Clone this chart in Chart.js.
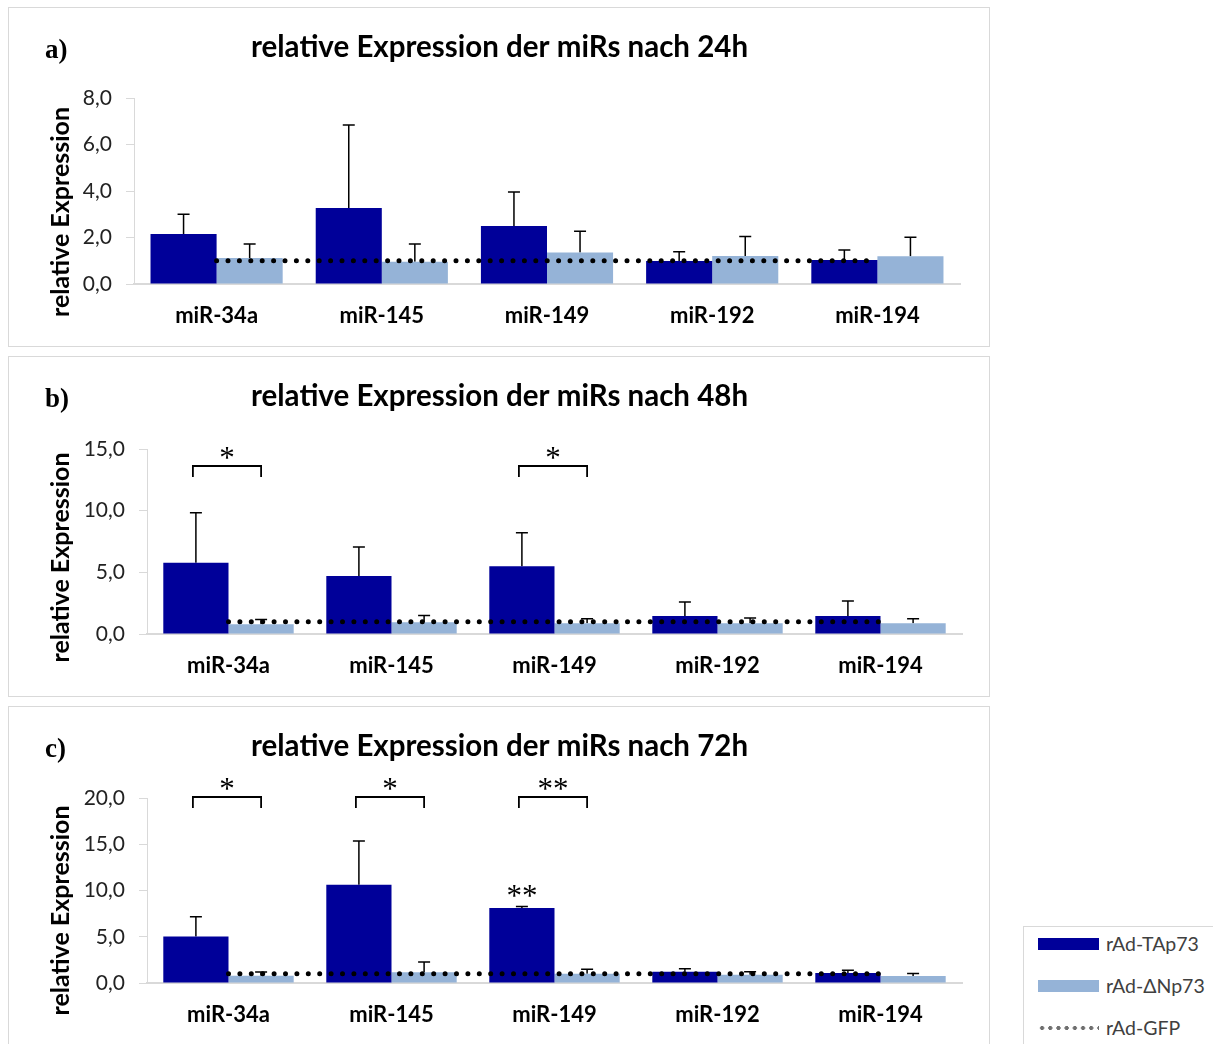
<!DOCTYPE html>
<html><head><meta charset="utf-8">
<script src="https://cdn.jsdelivr.net/npm/chart.js@4"></script>
<style>
body{margin:0;background:#fff;width:1213px;height:1044px;overflow:hidden;position:relative;font-family:Lato,sans-serif}
.box{position:absolute;left:8px;width:982px;border:1px solid #d9d9d9;box-sizing:border-box}
canvas{position:absolute;left:8px}
#legend{position:absolute;left:1023px;top:926px;width:220px;height:140px;border:1px solid #d9d9d9;box-sizing:border-box}
.sw{position:absolute;left:14px;width:61px;height:12px}
.lt{position:absolute;left:82px;font-size:19.5px;color:#404040;line-height:22px;white-space:nowrap}
</style></head>
<body>
<div class="box" style="top:7px;height:340px"></div>
<div class="box" style="top:356px;height:341px"></div>
<div class="box" style="top:706px;height:350px"></div>
<canvas id="ca" width="982" height="339" style="top:7px"></canvas>
<canvas id="cb" width="982" height="340" style="top:356px"></canvas>
<canvas id="cc" width="982" height="338" style="top:706px"></canvas>
<div id="legend">
  <div class="sw" style="top:11px;background:#000099"></div>
  <div class="lt" style="top:6px">rAd-TAp73</div>
  <div class="sw" style="top:53px;background:#95b3d7"></div>
  <div class="lt" style="top:48px">rAd-ΔNp73</div>
  <div class="sw" style="top:98px;height:6px;background:radial-gradient(circle,#6f6f6f 1.8px,transparent 2.3px) 0 0/8.2px 6px repeat-x"></div>
  <div class="lt" style="top:90px">rAd-GFP</div>
</div>
<script>
// ---- data ----
const categories = ['miR-34a', 'miR-145', 'miR-149', 'miR-192', 'miR-194'];
const seriesNames = ['rAd-TAp73', 'rAd-ΔNp73', 'rAd-GFP'];

const tap24    = [2.15, 3.27, 2.49, 0.99, 1.03];
const tap24Err = [0.85, 3.57, 1.47, 0.40, 0.43];
const dnp24    = [1.12, 0.96, 1.35, 1.20, 1.19];
const dnp24Err = [0.60, 0.76, 0.92, 0.84, 0.82];
const gfp24    = [1, 1, 1, 1, 1];

const tap48    = [5.78, 4.70, 5.49, 1.46, 1.46];
const tap48Err = [4.05, 2.35, 2.71, 1.14, 1.22];
const dnp48    = [0.80, 0.95, 0.87, 0.87, 0.87];
const dnp48Err = [0.38, 0.55, 0.37, 0.43, 0.37];
const gfp48    = [1, 1, 1, 1, 1];

const tap72    = [5.04, 10.63, 8.10, 1.22, 1.08];
const tap72Err = [2.13, 4.72, 0.18, 0.33, 0.29];
const dnp72    = [0.79, 1.15, 1.00, 0.90, 0.76];
const dnp72Err = [0.40, 1.12, 0.50, 0.32, 0.28];
const gfp72    = [1, 1, 1, 1, 1];

const sig48     = ['*', '', '*', '', ''];
const sig72     = ['*', '*', '**', '', ''];
const sig72Tap  = ['', '', '**', '', ''];

const titles  = ['relative Expression der miRs nach 24h', 'relative Expression der miRs nach 48h', 'relative Expression der miRs nach 72h'];
const letters = ['a)', 'b)', 'c)'];
const yTitle  = 'relative Expression';
const yMax    = [8, 15, 20];
const yStep   = [2, 5, 5];

// ---- drawing ----
const panelPlugin = {
  id: 'panel',
  beforeDatasetsDraw(chart, args, o) {
    const ctx = chart.ctx, ys = chart.scales.y;
    ctx.save();
    ctx.strokeStyle = '#000'; ctx.lineWidth = 1.5;
    [[1, o.valT, o.errT], [2, o.valD, o.errD]].forEach(([di, val, err]) => {
      chart.getDatasetMeta(di).data.forEach((bar, i) => {
        const y0 = ys.getPixelForValue(val[i]), y1 = ys.getPixelForValue(val[i] + err[i]);
        ctx.beginPath();
        ctx.moveTo(bar.x, y0); ctx.lineTo(bar.x, y1);
        ctx.moveTo(bar.x - 6, y1); ctx.lineTo(bar.x + 6, y1);
        ctx.stroke();
      });
    });
    ctx.restore();
  },
  afterDraw(chart, args, o) {
    const ctx = chart.ctx, ca = chart.chartArea, ys = chart.scales.y;
    ctx.save();
    ctx.fillStyle = '#000';
    ctx.textBaseline = 'middle';
    // title
    ctx.font = 'bold 29.5px Lato';
    ctx.textAlign = 'center';
    ctx.fillText(o.title, chart.width / 2 + 0.5, 40);
    // letter
    ctx.font = 'bold 27px "Liberation Serif"';
    ctx.textAlign = 'left';
    ctx.fillText(o.letter, 37, 44);
    // y title
    ctx.save();
    ctx.translate(53, (ca.top + ca.bottom) / 2 + o.ytDy);
    ctx.rotate(-Math.PI / 2);
    ctx.font = 'bold 25px Lato';
    ctx.textAlign = 'center';
    ctx.fillText(yTitle, 0, 0);
    ctx.restore();
    // significance brackets
    const mT = chart.getDatasetMeta(1).data, mD = chart.getDatasetMeta(2).data;
    ctx.strokeStyle = '#000'; ctx.lineWidth = 1.8;
    ctx.font = '31px "Liberation Serif"';
    ctx.textAlign = 'center';
    ctx.textBaseline = 'alphabetic';
    if (o.sig) {
      o.sig.forEach((s, i) => {
        if (!s) return;
        const x0 = mT[i].x - 3, x1 = mD[i].x;
        const top = ca.top + o.sigTop;
        ctx.beginPath();
        ctx.moveTo(x0, top + 11); ctx.lineTo(x0, top); ctx.lineTo(x1, top); ctx.lineTo(x1, top + 11);
        ctx.stroke();
        ctx.fillText(s, (x0 + x1) / 2, top - 12 + 14);
      });
    }
    if (o.sigTap) {
      o.sigTap.forEach((s, i) => {
        if (!s) return;
        const yTop = ys.getPixelForValue(o.valT[i] + o.errT[i]) - 14;
        ctx.fillText(s, mT[i].x, yTop + 14);
      });
    }
    ctx.restore();
  }
};

function fmt(v) { return v.toFixed(1).replace('.', ','); }

function makePanel(canvasId, idx, tap, tapErr, dnp, dnpErr, gfp, area, h, extra) {
  const w = 982;
  return new Chart(document.getElementById(canvasId), {
    data: {
      labels: categories,
      datasets: [
        { type: 'line', label: seriesNames[2], data: gfp, borderColor: '#000', borderWidth: 5,
          borderDash: [0, 11.4], borderCapStyle: 'round', pointRadius: 0, fill: false, order: -1, tension: 0 },
        { type: 'bar', label: seriesNames[0], data: tap, backgroundColor: '#000099', borderWidth: 0 },
        { type: 'bar', label: seriesNames[1], data: dnp, backgroundColor: '#95b3d7', borderWidth: 0 }
      ]
    },
    options: {
      responsive: false, animation: false,
      layout: { padding: { left: 0, top: area.top, right: w - area.right, bottom: 0 } },
      datasets: { bar: { categoryPercentage: 0.8, barPercentage: 1.0 } },
      plugins: {
        legend: { display: false }, tooltip: { enabled: false }, title: { display: false },
        panel: Object.assign({ title: titles[idx], letter: letters[idx], valT: tap, errT: tapErr, valD: dnp, errD: dnpErr }, extra)
      },
      scales: {
        x: {
          grid: { display: false, drawTicks: false },
          border: { display: true, color: '#d9d9d9', width: 2 },
          ticks: { font: { family: 'Lato', size: 22, weight: 'bold' }, color: '#000', padding: 19 },
          afterFit(s) { s.height = h - area.bottom; }
        },
        y: {
          min: 0, max: yMax[idx],
          grid: { drawOnChartArea: false, drawTicks: true, tickLength: 8, color: '#d9d9d9' },
          border: { display: true, color: '#d9d9d9', width: 1 },
          ticks: { stepSize: yStep[idx], font: { family: 'Lato', size: 21 }, color: '#222', padding: 14,
                   callback: v => fmt(v) },
          afterFit(s) { s.width = area.left; }
        }
      }
    },
    plugins: [panelPlugin]
  });
}

makePanel('ca', 0, tap24, tap24Err, dnp24, dnp24Err, gfp24, { left: 126, right: 952, top: 91, bottom: 277 }, 339, { ytDy: 21 });
makePanel('cb', 1, tap48, tap48Err, dnp48, dnp48Err, gfp48, { left: 139, right: 954, top: 93, bottom: 278 }, 340, { ytDy: 16, sig: sig48, sigTop: 17 });
makePanel('cc', 2, tap72, tap72Err, dnp72, dnp72Err, gfp72, { left: 139, right: 954, top: 92, bottom: 277 }, 338, { ytDy: 20, sig: sig72, sigTop: -1, sigTap: sig72Tap });
</script>
</body></html>
